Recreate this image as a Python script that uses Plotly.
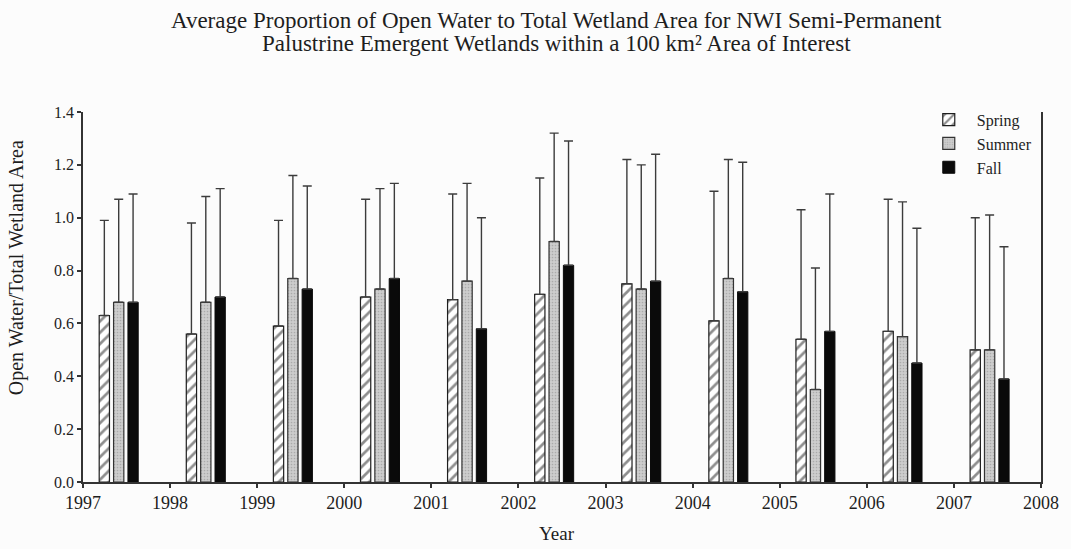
import plotly.graph_objects as go

# Seasonal mean open-water proportion and standard deviation, by year
years = [1997, 1998, 1999, 2000, 2001, 2002, 2003, 2004, 2005, 2006, 2007]
spring = [0.63, 0.56, 0.59, 0.70, 0.69, 0.71, 0.75, 0.61, 0.54, 0.57, 0.50]
summer = [0.68, 0.68, 0.77, 0.73, 0.76, 0.91, 0.73, 0.77, 0.35, 0.55, 0.50]
fall = [0.68, 0.70, 0.73, 0.77, 0.58, 0.82, 0.76, 0.72, 0.57, 0.45, 0.39]
spring_sd = [0.36, 0.42, 0.40, 0.37, 0.40, 0.44, 0.47, 0.49, 0.49, 0.50, 0.50]
summer_sd = [0.39, 0.40, 0.39, 0.38, 0.37, 0.41, 0.47, 0.45, 0.46, 0.51, 0.51]
fall_sd = [0.41, 0.41, 0.39, 0.36, 0.42, 0.47, 0.48, 0.49, 0.52, 0.51, 0.50]
seasons = ["Spring", "Summer", "Fall"]

FONT = "Liberation Serif, Times New Roman, serif"
INK = "#1e1e1e"

# each year's group of bars sits a little left of mid-year
x_pos = [y + 0.41 for y in years]

styles = {
    "Spring": dict(color="white", line=dict(color=INK, width=1.2),
                   pattern=dict(shape="/", fgcolor=INK, bgcolor="white",
                                size=8, solidity=0.34)),
    "Summer": dict(color="#c4c4c4", line=dict(color="#333333", width=1.2),
                   pattern=dict(shape=".", fgcolor="#8a8a8a", bgcolor="#cdcdcd",
                                size=3, solidity=0.25)),
    "Fall": dict(color="#0a0a0a", line=dict(color="#0a0a0a", width=1)),
}

fig = go.Figure()
for name, vals, sd in zip(seasons, [spring, summer, fall], [spring_sd, summer_sd, fall_sd]):
    fig.add_bar(
        x=x_pos, y=vals, name=name, marker=styles[name],
        error_y=dict(type="data", array=sd, arrayminus=[0] * len(sd),
                     symmetric=False, color="#3c3c3c", thickness=1.4, width=4.5),
    )

fig.update_layout(
    width=1071, height=549,
    margin=dict(l=83, r=24, t=112, b=67),
    paper_bgcolor="#fcfcfc", plot_bgcolor="#fcfcfc",
    barmode="group", bargap=0.505, bargroupgap=0.285,
    font=dict(family=FONT, color=INK, size=15),
    showlegend=True,
    legend=dict(x=0.8745, y=1.025, xanchor="left", yanchor="top",
                bgcolor="rgba(0,0,0,0)", font=dict(size=16, family=FONT),
                itemwidth=46, tracegroupgap=0),
    xaxis=dict(range=[1997, 2008], tickmode="linear", tick0=1997, dtick=1,
               tickformat="d", ticks="outside", ticklen=4, tickwidth=1.5,
               tickcolor="#333", showline=True, linecolor="#333", linewidth=1.5,
               showgrid=False, zeroline=False,
               tickfont=dict(size=18, family=FONT)),
    yaxis=dict(range=[0, 1.4], tickmode="linear", tick0=0, dtick=0.2,
               tickformat=".1f", ticks="outside", ticklen=4, tickwidth=1.5,
               tickcolor="#333", showline=True, linecolor="#333", linewidth=1.5,
               mirror=True, showgrid=False, zeroline=False,
               tickfont=dict(size=16, family=FONT)),
    annotations=[
        dict(text="Average Proportion of Open Water to Total Wetland Area for NWI Semi-Permanent",
             xref="paper", yref="paper", x=0.494, y=1.246, xanchor="center",
             yanchor="middle", showarrow=False, font=dict(size=23, family=FONT)),
        dict(text="Palustrine Emergent Wetlands within a 100 km² Area of Interest",
             xref="paper", yref="paper", x=0.494, y=1.184, xanchor="center",
             yanchor="middle", showarrow=False, font=dict(size=23, family=FONT)),
        dict(text="Open Water/Total Wetland Area", textangle=-90,
             xref="paper", yref="paper", x=-0.069, y=0.58, xanchor="center",
             yanchor="middle", showarrow=False, font=dict(size=20, family=FONT)),
        dict(text="Year", xref="paper", yref="paper", x=0.495, y=-0.14,
             xanchor="center", yanchor="middle", showarrow=False,
             font=dict(size=19, family=FONT)),
    ],
)

fig.write_html("out.html")
